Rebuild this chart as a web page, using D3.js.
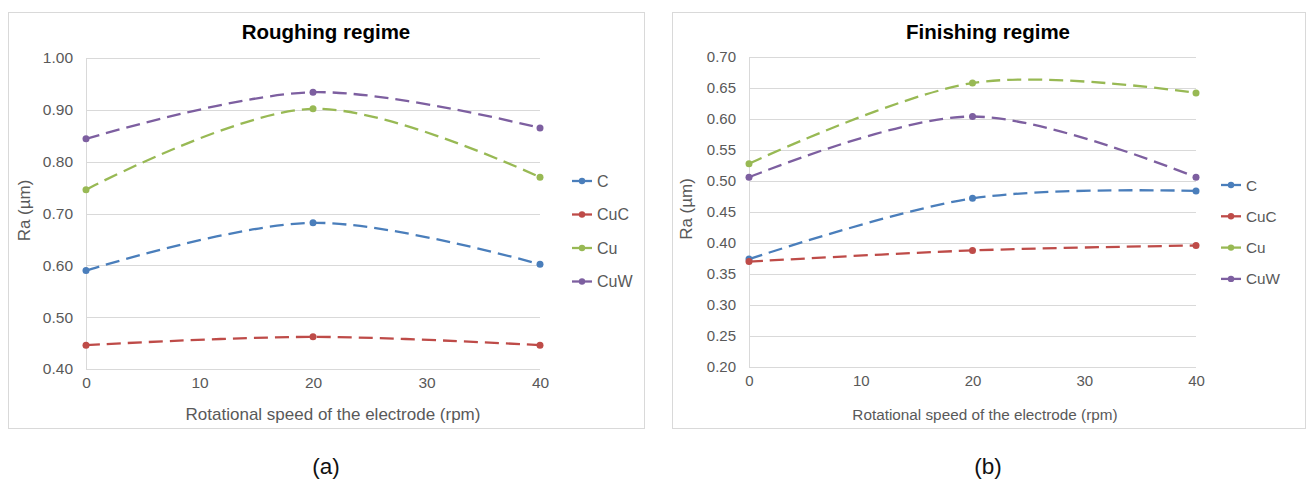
<!DOCTYPE html>
<html lang="en">
<head>
    <meta charset="UTF-8">
    <title>Ra vs rotational speed</title>
    <script src="https://cdnjs.cloudflare.com/ajax/libs/d3/7.8.5/d3.js"></script>
    <style>
        body { margin: 0; background: #fff; font-family: "Liberation Sans", Arial, sans-serif; }
        svg text { font-family: "Liberation Sans", Arial, sans-serif; }
    </style>
</head>
<body>
<svg id="chart" width="1306" height="480"></svg>

<script>
    // data
    const speeds = [0, 20, 40];
    const seriesNames = ["C", "CuC", "Cu", "CuW"];
    const seriesColors = ["#4a7ebb", "#be4b48", "#98b954", "#7d5fa0"];

    const roughC   = [0.590, 0.682, 0.602];
    const roughCuC = [0.446, 0.462, 0.446];
    const roughCu  = [0.746, 0.902, 0.770];
    const roughCuW = [0.844, 0.934, 0.865];

    const finishC   = [0.374, 0.472, 0.484];
    const finishCuC = [0.370, 0.388, 0.396];
    const finishCu  = [0.528, 0.658, 0.642];
    const finishCuW = [0.506, 0.604, 0.506];

    const xTicks = [0, 10, 20, 30, 40];
    const roughYTicks = [0.40, 0.50, 0.60, 0.70, 0.80, 0.90, 1.00];
    const finishYTicks = [0.20, 0.25, 0.30, 0.35, 0.40, 0.45, 0.50, 0.55, 0.60, 0.65, 0.70];

    const svg = d3.select("#chart");

    function drawPanel(p) {
        const g = svg.append("g");

        // chart frame
        g.append("rect")
            .attr("x", p.box[0] + 0.5).attr("y", p.box[1] + 0.5)
            .attr("width", p.box[2]).attr("height", p.box[3])
            .attr("fill", "#fff").attr("stroke", "#d9d9d9");

        const x = d3.scaleLinear().domain([0, 40]).range([p.plot.left, p.plot.right]);
        const y = d3.scaleLinear().domain(d3.extent(p.yTicks)).range([p.plot.bottom, p.plot.top]);

        // gridlines
        g.append("g")
            .selectAll("line")
            .data(p.yTicks)
            .enter()
            .append("line")
            .attr("x1", p.plot.left).attr("x2", p.plot.right)
            .attr("y1", d => Math.round(y(d)) + 0.5).attr("y2", d => Math.round(y(d)) + 0.5)
            .attr("stroke", "#d9d9d9").attr("stroke-width", 1);

        // vertical axis line
        g.append("line")
            .attr("x1", p.plot.left + 0.5).attr("x2", p.plot.left + 0.5)
            .attr("y1", p.plot.top).attr("y2", p.plot.bottom)
            .attr("stroke", "#d9d9d9");

        // axes (tick labels only)
        const yAxis = d3.axisLeft(y).tickValues(p.yTicks).tickFormat(d3.format(".2f")).tickSize(0).tickPadding(13);
        g.append("g")
            .attr("transform", `translate(${p.plot.left},0)`)
            .call(yAxis)
            .call(a => a.select(".domain").remove())
            .selectAll("text")
            .attr("font-size", p.tickSize).attr("fill", "#595959");

        const xAxis = d3.axisBottom(x).tickValues(xTicks).tickSize(0).tickPadding(8);
        g.append("g")
            .attr("transform", `translate(0,${p.plot.bottom})`)
            .call(xAxis)
            .call(a => a.select(".domain").remove())
            .selectAll("text")
            .attr("font-size", p.tickSize).attr("fill", "#595959");

        // titles
        g.append("text")
            .attr("x", p.titleX).attr("y", 39)
            .attr("text-anchor", "middle")
            .attr("font-size", 20.5).attr("font-weight", "bold").attr("fill", "#000")
            .text(p.title);

        g.append("text")
            .attr("x", p.xTitleX).attr("y", 420)
            .attr("text-anchor", "middle")
            .attr("font-size", p.xTitleSize).attr("fill", "#595959")
            .text("Rotational speed of the electrode (rpm)");

        g.append("text")
            .attr("transform", `translate(${p.yTitleX},${(p.plot.top + p.plot.bottom) / 2 - 3}) rotate(-90)`)
            .attr("text-anchor", "middle")
            .attr("font-size", 17).attr("fill", "#595959")
            .text("Ra (µm)");

        // series
        const line = d3.line()
            .x((d, i) => x(speeds[i]))
            .y(d => y(d))
            .curve(d3.curveCardinal.tension(0));

        p.series.forEach((vals, si) => {
            const sg = g.append("g");
            sg.append("path")
                .attr("d", line(vals))
                .attr("fill", "none")
                .attr("stroke", seriesColors[si])
                .attr("stroke-width", 2.3)
                .attr("stroke-dasharray", "14,7");
            sg.selectAll("circle")
                .data(vals)
                .enter()
                .append("circle")
                .attr("cx", (d, i) => x(speeds[i]))
                .attr("cy", d => y(d))
                .attr("r", 3.5)
                .attr("fill", seriesColors[si]);
        });

        // legend
        const lg = g.append("g");
        seriesNames.forEach((name, i) => {
            const ly = p.legend.y + i * p.legend.step;
            lg.append("line")
                .attr("x1", p.legend.x).attr("x2", p.legend.x + 20)
                .attr("y1", ly).attr("y2", ly)
                .attr("stroke", seriesColors[i]).attr("stroke-width", 2.3);
            lg.append("circle")
                .attr("cx", p.legend.x + 10).attr("cy", ly).attr("r", 3.2)
                .attr("fill", seriesColors[i]);
            lg.append("text")
                .attr("x", p.legend.x + 25).attr("y", ly + 5.5)
                .attr("font-size", p.legendSize).attr("fill", "#595959")
                .text(name);
        });

        // caption under the panel
        svg.append("text")
            .attr("x", p.titleX).attr("y", 474)
            .attr("text-anchor", "middle")
            .attr("font-size", 22.5).attr("fill", "#111")
            .text(p.caption);
    }

    drawPanel({
        box: [8, 12, 636, 416],
        plot: { left: 86, right: 540, top: 58, bottom: 369 },
        yTicks: roughYTicks,
        series: [roughC, roughCuC, roughCu, roughCuW],
        title: "Roughing regime",
        titleX: 326,
        xTitleX: 333,
        yTitleX: 30,
        tickSize: 15.5,
        xTitleSize: 17,
        legendSize: 16,
        legend: { x: 572, y: 181, step: 33.5 },
        caption: "(a)"
    });

    drawPanel({
        box: [672, 12, 633, 416],
        plot: { left: 749, right: 1196, top: 57, bottom: 367 },
        yTicks: finishYTicks,
        series: [finishC, finishCuC, finishCu, finishCuW],
        title: "Finishing regime",
        titleX: 988,
        xTitleX: 985,
        yTitleX: 692,
        tickSize: 15,
        xTitleSize: 15.3,
        legendSize: 15.3,
        legend: { x: 1221, y: 185, step: 31.3 },
        caption: "(b)"
    });
</script>
</body>
</html>
